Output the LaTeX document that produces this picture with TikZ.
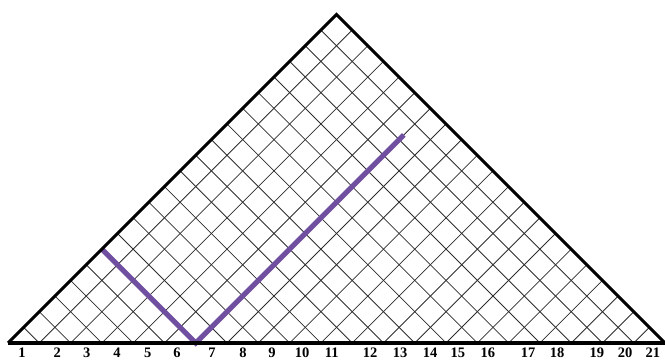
\documentclass[tikz,border=0pt]{standalone}
\usepackage{fontspec}
\setmainfont{Liberation Serif}
\definecolor{pathpurple}{RGB}{112,78,160}
\definecolor{gridgray}{RGB}{45,45,45}
\tikzset{
  gridline/.style={draw=gridgray, line width=0.8pt},
  edgeline/.style={draw=black, line width=3pt, line join=miter},
  baseline/.style={draw=black, line width=4.2pt},
  pathline/.style={draw=pathpurple, line width=5.2pt, line join=miter},
  numlabel/.style={font=\bfseries\fontsize{14.5}{14.5}\selectfont, inner sep=0pt, anchor=base}
}
\begin{document}
\begin{tikzpicture}[x=31.29pt,y=31.29pt]
\useasboundingbox (-0.2557,-0.5753) rectangle (20.9974,10.9620);
\coordinate (L) at (0,0);
\coordinate (A) at (10.5,10.5);
\coordinate (R) at (21,0);
% grid
\foreach \k in {1,...,20}{
  \coordinate (b\k) at (\k,0);
  \coordinate (ur\k) at ({(21+\k)/2},{(21-\k)/2});
  \coordinate (ul\k) at ({\k/2},{\k/2});
  \draw[gridline] (ul\k) -- (b\k) -- (ur\k);
}
% purple path
\coordinate (P1) at (3,3);
\coordinate (P2) at (6,0);
\coordinate (P3) at (12.65,6.65);
\draw[pathline] (P1) -- (P2) -- (P3);
% triangle
\draw[edgeline] (L) -- (A) -- (R);
\draw[baseline] (L) -- (R);
% labels
\foreach \n/\x in {1/0.45,2/1.57,3/2.52,4/3.48,5/4.47,6/5.40,7/6.52,8/7.51,9/8.44,10/9.40,11/10.35,12/11.57,13/12.53,14/13.49,15/14.38,16/15.34,17/16.62,18/17.55,19/18.82,20/19.72,21/20.61}{
  \node[numlabel] (l\n) at (\x,-0.46) {\n};
}
\end{tikzpicture}
\end{document}
